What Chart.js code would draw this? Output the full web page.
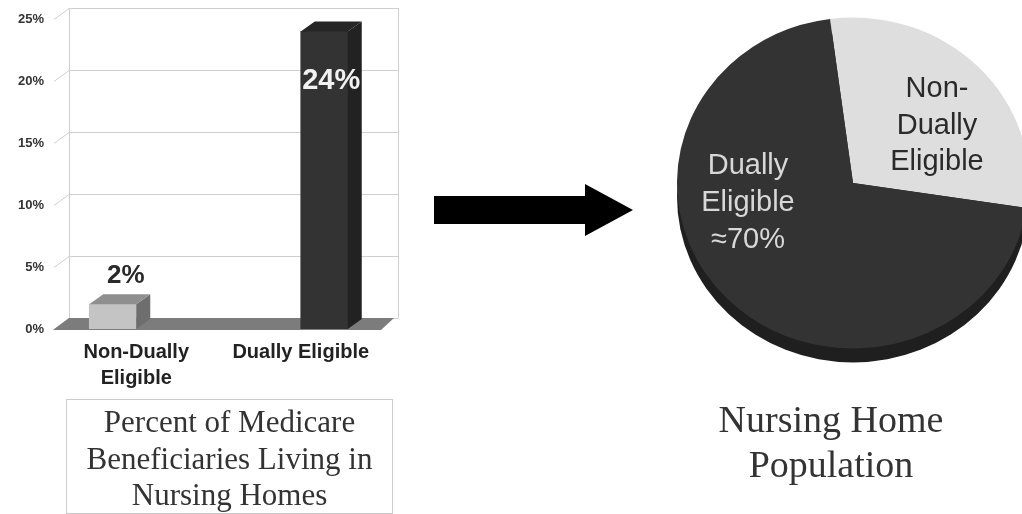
<!DOCTYPE html>
<html>
<head>
<meta charset="utf-8">
<script src="https://cdn.jsdelivr.net/npm/chart.js@4/dist/chart.umd.min.js"></script>
<style>
    html, body { margin: 0; padding: 0; background: #fff; overflow: hidden; width: 1022px; height: 514px; }
    canvas, .caption, #arrow { filter: blur(0.6px); }
    canvas { position: absolute; }
    #barChart { left: 0; top: 0; }
    #pieChart { left: 667px; top: 0; }
    .caption { position: absolute; font-family: "Liberation Serif", serif; color: #333; text-align: center; box-sizing: border-box; }
    #barCaption { left: 66px; top: 399px; width: 327px; height: 115px; border: 1px solid #ccc; font-size: 31px; line-height: 36.5px; padding-top: 4px; }
    #pieCaption { left: 681px; top: 397px; width: 300px; font-size: 38px; line-height: 45px; }
    #arrow { position: absolute; left: 434px; top: 184px; }
</style>
</head>
<body>
<canvas id="barChart" width="420" height="395" style="width:420px;height:395px"></canvas>
<canvas id="pieChart" width="372" height="366" style="width:372px;height:366px"></canvas>
<svg id="arrow" width="200" height="52"><polygon points="0,12 151,12 151,0 199,26 151,52 151,40 0,40" fill="#000"/></svg>
<div class="caption" id="barCaption">Percent of Medicare<br>Beneficiaries Living in<br>Nursing Homes</div>
<div class="caption" id="pieCaption">Nursing Home<br>Population</div>
<script>
const barCategories = [["Non-Dually", "Eligible"], "Dually Eligible"];
const nonDuallyShare = [2, null];
const duallyShare = [null, 24];
const barLabels = ["2%", "24%"];
const yMax = 25;
const yStep = 5;

const pieCategories = ["Non-Dually Eligible", "Dually Eligible"];
const pieValues = [29.5, 70.5];

const SANS = '"Liberation Sans", Arial, sans-serif';

const faces = [
    { side: "#6e6e6e", top: "#8f8f8f" },
    { side: "#222222", top: "#262626" },
];

function poly(ctx, pts, fill) {
    ctx.beginPath();
    pts.forEach((p, i) => (i ? ctx.lineTo(p[0], p[1]) : ctx.moveTo(p[0], p[1])));
    ctx.closePath();
    ctx.fillStyle = fill;
    ctx.fill();
}

// fake 3d room behind the bars, hung on the y scale
const roomPlugin = {
    id: "room",
    beforeDatasetsDraw(chart) {
        const { ctx, chartArea: a, scales } = chart;
        const dx = 15, dy = 11;
        const y0 = scales.y.getPixelForValue(0);
        const yTop = scales.y.getPixelForValue(yMax);
        ctx.save();
        ctx.strokeStyle = "#cfcfcf";
        ctx.lineWidth = 1;
        scales.y.ticks.forEach((t) => {
            const y = Math.round(scales.y.getPixelForValue(t.value)) + 0.5;
            ctx.beginPath();
            ctx.moveTo(a.left, y);
            ctx.lineTo(a.left + dx, y - dy);
            ctx.lineTo(a.right + dx, y - dy);
            ctx.stroke();
        });
        [a.left + dx, a.right + dx].forEach((x) => {
            ctx.beginPath();
            ctx.moveTo(x + 0.5, yTop - dy);
            ctx.lineTo(x + 0.5, y0 - dy);
            ctx.stroke();
        });
        poly(ctx, [[a.left - 1, y0 + 1], [a.right - 2, y0 + 1], [a.right + dx - 4, y0 - dy], [a.left + dx, y0 - dy]], "#7c7c7c");
        ctx.restore();
    },
    afterDatasetsDraw(chart) {
        const { ctx } = chart;
        const dx = 14, dy = 10;
        ctx.save();
        chart.data.datasets.forEach((ds, i) => {
            const bar = chart.getDatasetMeta(i).data[i];
            const left = bar.x - bar.width / 2;
            const right = bar.x + bar.width / 2;
            poly(ctx, [[right, bar.y], [right + dx, bar.y - dy], [right + dx, bar.base - dy], [right, bar.base]], faces[i].side);
            poly(ctx, [[left, bar.y], [left + dx, bar.y - dy], [right + dx, bar.y - dy], [right, bar.y]], faces[i].top);
        });
        ctx.textAlign = "center";
        ctx.textBaseline = "middle";
        const small = chart.getDatasetMeta(0).data[0];
        ctx.font = "bold 26px " + SANS;
        ctx.fillStyle = "#2a2a2a";
        ctx.fillText(barLabels[0], small.x + 13, small.y - 28);
        const tall = chart.getDatasetMeta(1).data[1];
        ctx.font = "bold 29px " + SANS;
        ctx.fillStyle = "#f2f2f2";
        ctx.fillText(barLabels[1], tall.x + 7, tall.y + 50);
        ctx.restore();
    },
};

new Chart(document.getElementById("barChart"), {
    type: "bar",
    data: {
        labels: barCategories,
        datasets: [
            { label: "Non-Dually Eligible", data: nonDuallyShare, backgroundColor: "#c4c4c4" },
            { label: "Dually Eligible", data: duallyShare, backgroundColor: "#333333" },
        ],
    },
    options: {
        responsive: false,
        animation: false,
        layout: { padding: { top: 19, right: 37 } },
        datasets: { bar: { barThickness: 47 } },
        scales: {
            x: {
                grid: { display: false },
                border: { display: false },
                afterFit: (s) => { s.height = 66; },
                ticks: {
                    color: "#222",
                    padding: 2,
                    maxRotation: 0,
                    font: { family: SANS, weight: "bold", size: 20, lineHeight: 1.3 },
                },
            },
            y: {
                min: 0,
                max: yMax,
                grid: { display: false },
                border: { display: false },
                afterFit: (s) => { s.width = 54; },
                ticks: {
                    stepSize: yStep,
                    color: "#333",
                    padding: 2,
                    font: { family: SANS, weight: "bold", size: 13 },
                    callback: (v) => v + "%",
                },
            },
        },
        plugins: { legend: { display: false }, tooltip: { enabled: false }, title: { display: false } },
    },
    plugins: [roomPlugin],
});

// pie is tilted: squash it around its centre and put the rim underneath
const tiltPlugin = {
    id: "tilt",
    beforeDatasetsDraw(chart) {
        const { ctx } = chart;
        const arc = chart.getDatasetMeta(0).data[0];
        const squash = 0.94;
        ctx.save();
        ctx.fillStyle = "#1f1f1f";
        ctx.beginPath();
        ctx.ellipse(arc.x, arc.y + 14, arc.outerRadius, arc.outerRadius * squash, 0, 0, Math.PI * 2);
        ctx.fill();
        ctx.translate(arc.x, arc.y);
        ctx.scale(1, squash);
        ctx.translate(-arc.x, -arc.y);
    },
    afterDatasetsDraw(chart) {
        const { ctx } = chart;
        ctx.restore();
        const arc = chart.getDatasetMeta(0).data[0];
        ctx.save();
        ctx.textAlign = "center";
        ctx.textBaseline = "middle";
        ctx.font = "29px " + SANS;
        ctx.fillStyle = "#2a2a2a";
        ["Non-", "Dually", "Eligible"].forEach((line, i) => {
            ctx.fillText(line, arc.x + 84, arc.y - 94 + i * 36.5);
        });
        ctx.fillStyle = "#d8d8d8";
        ["Dually", "Eligible", "≈70%"].forEach((line, i) => {
            ctx.fillText(line, arc.x - 105, arc.y - 17 + i * 37);
        });
        ctx.restore();
    },
};

new Chart(document.getElementById("pieChart"), {
    type: "pie",
    data: {
        labels: pieCategories,
        datasets: [{ data: pieValues, backgroundColor: ["#dedede", "#333333"], borderWidth: 0 }],
    },
    options: {
        responsive: false,
        animation: false,
        rotation: -7.5,
        layout: { padding: { left: 10, right: 10 } },
        plugins: { legend: { display: false }, tooltip: { enabled: false } },
    },
    plugins: [tiltPlugin],
});
</script>
</body>
</html>
